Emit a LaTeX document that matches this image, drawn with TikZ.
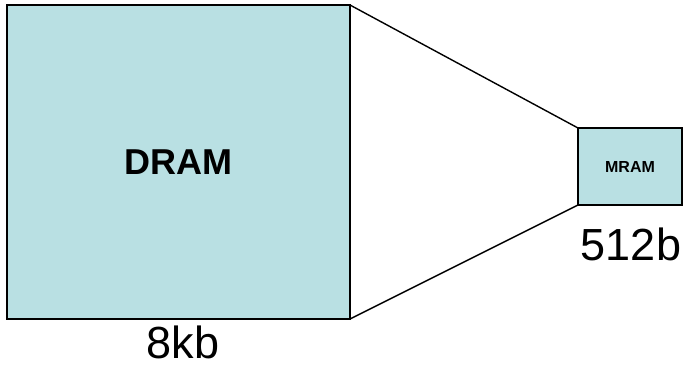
\documentclass[tikz,border=0pt]{standalone}
\usepackage{fontspec}
\setmainfont{Liberation Sans}
\definecolor{cellfill}{RGB}{185,224,227}
\begin{document}
\begin{tikzpicture}[x=1pt,y=-1pt,
  cell/.style={draw=black,line width=1.5pt,fill=cellfill,inner sep=0pt,outer sep=0pt},
  link/.style={draw=black,line width=1.4pt},
  size/.style={inner sep=0pt,anchor=base,font=\fontsize{45}{45}\selectfont}]
  \useasboundingbox (0,0) rectangle (683,368);
  % 8 kb DRAM block
  \node[cell,minimum width=343pt,minimum height=314pt] (dram) at (178.5,162) {};
  \node[font=\fontsize{36}{36}\bfseries\selectfont] (dramlbl) at (dram.center) {DRAM};
  % 512 b MRAM block
  \node[cell,minimum width=104pt,minimum height=77pt] (mram) at (630,166.5) {};
  \node[font=\fontsize{16}{16}\bfseries\selectfont] (mramlbl) at (mram.center) {MRAM};
  % projection lines
  \draw[link] (dram.north east) -- (mram.north west);
  \draw[link] (dram.south east) -- (mram.south west);
  % capacities
  \node[size] (dramsize) at (183,358) {8kb};
  \node[size] (mramsize) at (631,260) {512b};
\end{tikzpicture}
\end{document}
